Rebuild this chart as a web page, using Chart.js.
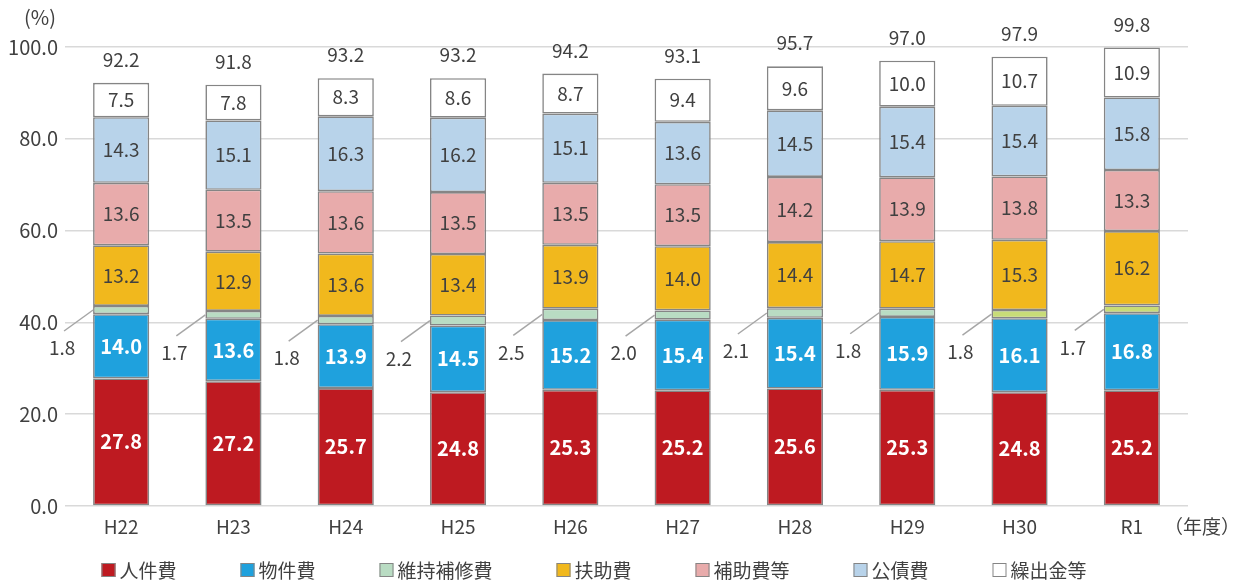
<!DOCTYPE html>
<html lang="ja">
<head>
<meta charset="UTF-8">
<title>性質別歳出の推移</title>
<style>
  body { margin: 0; background: #fff; }
  #wrap { width: 1239px; height: 583px; }
</style>
</head>
<body>
<div id="wrap"><canvas id="chart" width="1239" height="583"></canvas></div>
<script src="https://cdn.jsdelivr.net/npm/chart.js"></script>
<script>
const years = ['H22', 'H23', 'H24', 'H25', 'H26', 'H27', 'H28', 'H29', 'H30', 'R1'];
const jinkenhi   = [27.8, 27.2, 25.7, 24.8, 25.3, 25.2, 25.6, 25.3, 24.8, 25.2];
const bukkenhi   = [14.0, 13.6, 13.9, 14.5, 15.2, 15.4, 15.4, 15.9, 16.1, 16.8];
const ijihoshu   = [1.8, 1.7, 1.8, 2.2, 2.5, 2.0, 2.1, 1.8, 1.8, 1.7];
const fujohi     = [13.2, 12.9, 13.6, 13.4, 13.9, 14.0, 14.4, 14.7, 15.3, 16.2];
const hojohi     = [13.6, 13.5, 13.6, 13.5, 13.5, 13.5, 14.2, 13.9, 13.8, 13.3];
const kosaihi    = [14.3, 15.1, 16.3, 16.2, 15.1, 13.6, 14.5, 15.4, 15.4, 15.8];
const kuridashi  = [7.5, 7.8, 8.3, 8.6, 8.7, 9.4, 9.6, 10.0, 10.7, 10.9];
const totals     = [92.2, 91.8, 93.2, 93.2, 94.2, 93.1, 95.7, 97.0, 97.9, 99.8];
const yTicks     = [0, 20, 40, 60, 80, 100];

const FONT = '"Noto Sans CJK JP", "Noto Sans", sans-serif';
const TXT = '#404040';
const EDGE = '#858585';
const FS = 19;

// 維持補修費: H30 and R1 are drawn in a yellow-green in the original
const ijiColors = years.map((y, i) => i >= 8 ? '#c8dc78' : '#b9dcc3');

function ds(label, data, color, dark) {
  return {
    label: label, data: data, backgroundColor: color,
    borderColor: EDGE, borderWidth: 1.6, borderSkipped: false,
    barPercentage: 0.5, categoryPercentage: 1.0,
    legendColor: Array.isArray(color) ? color[0] : color,
    dark: dark
  };
}

const datasets = [
  ds('人件費', jinkenhi, '#be1a21', true),
  ds('物件費', bukkenhi, '#1fa1dd', true),
  ds('維持補修費', ijihoshu, ijiColors, false),
  ds('扶助費', fujohi, '#f1b81d', false),
  ds('補助費等', hojohi, '#e8abab', false),
  ds('公債費', kosaihi, '#b8d3ea', false),
  ds('繰出金等', kuridashi, '#ffffff', false)
];

const labelPlugin = {
  id: 'valueLabels',
  afterDatasetsDraw(chart) {
    const ctx = chart.ctx;
    ctx.save();
    ctx.textAlign = 'center';
    ctx.textBaseline = 'middle';
    chart.data.datasets.forEach((d, i) => {
      const meta = chart.getDatasetMeta(i);
      meta.data.forEach((bar, j) => {
        const p = bar.getProps(['x', 'y', 'base', 'width'], true);
        const mid = (p.y + p.base) / 2;
        const txt = d.data[j].toFixed(1);
        if (i === 2) {
          const left = p.x - p.width / 2;
          ctx.strokeStyle = '#a6a6a6';
          ctx.lineWidth = 1.5;
          ctx.beginPath();
          ctx.moveTo(left, mid);
          ctx.lineTo(left - 29, mid + 21);
          ctx.stroke();
          ctx.fillStyle = TXT;
          ctx.font = FS + 'px ' + FONT;
          ctx.fillText(txt, left - 31, mid + 38);
          return;
        }
        if (d.dark) {
          ctx.fillStyle = '#ffffff';
          ctx.font = 'bold ' + (FS + 1) + 'px ' + FONT;
        } else {
          ctx.fillStyle = TXT;
          ctx.font = FS + 'px ' + FONT;
        }
        ctx.fillText(txt, p.x, mid);
      });
    });
    // totals above the bars
    ctx.fillStyle = TXT;
    ctx.font = FS + 'px ' + FONT;
    chart.getDatasetMeta(6).data.forEach((bar, j) => {
      const p = bar.getProps(['x', 'y'], true);
      ctx.fillText(totals[j].toFixed(1), p.x, p.y - 23);
    });
    ctx.restore();
  },
  afterDraw(chart) {
    const ctx = chart.ctx;
    ctx.save();
    ctx.fillStyle = TXT;
    ctx.font = (FS + 1) + 'px ' + FONT;
    ctx.textBaseline = 'middle';
    ctx.textAlign = 'center';
    ctx.fillText('(%)', 40, 17);
    ctx.font = FS + 'px ' + FONT;
    ctx.fillText('（年度）', 1202, 527);

    // legend
    ctx.textAlign = 'left';
    const gap = 64, box = 14, cy = 570;
    const items = chart.data.datasets.map(d => ({
      label: d.label, color: d.legendColor, w: box + 4 + ctx.measureText(d.label).width
    }));
    const total = items.reduce((s, it) => s + it.w, 0) + gap * (items.length - 1);
    let x = 594 - total / 2;
    items.forEach(it => {
      ctx.fillStyle = it.color;
      ctx.fillRect(x, cy - box / 2, box, box);
      ctx.strokeStyle = EDGE;
      ctx.lineWidth = 1;
      ctx.strokeRect(x + 0.5, cy - box / 2 + 0.5, box - 1, box - 1);
      ctx.fillStyle = TXT;
      ctx.fillText(it.label, x + box + 4, cy + 1);
      x += it.w + gap;
    });
    ctx.restore();
  }
};

new Chart(document.getElementById('chart'), {
  type: 'bar',
  data: { labels: years, datasets: datasets },
  options: {
    responsive: false,
    animation: false,
    layout: { padding: { top: 47, right: 51, left: 0, bottom: 37 } },
    plugins: { legend: { display: false }, tooltip: { enabled: false } },
    scales: {
      x: {
        stacked: true,
        grid: { display: false, drawTicks: false },
        border: { display: false },
        ticks: { color: TXT, font: { size: FS, family: FONT }, padding: 9 },
        afterFit: s => { s.height = 40; }
      },
      y: {
        stacked: true,
        min: 0, max: 100,
        afterBuildTicks: s => { s.ticks = yTicks.map(v => ({ value: v })); },
        grid: { color: '#d9d9d9', lineWidth: 1.5, drawTicks: false },
        border: { display: false },
        ticks: {
          color: TXT, font: { size: FS + 1, family: FONT }, padding: 7,
          callback: v => v.toFixed(1)
        },
        afterFit: s => { s.width = 65; }
      }
    }
  },
  plugins: [labelPlugin]
});
</script>
</body>
</html>
